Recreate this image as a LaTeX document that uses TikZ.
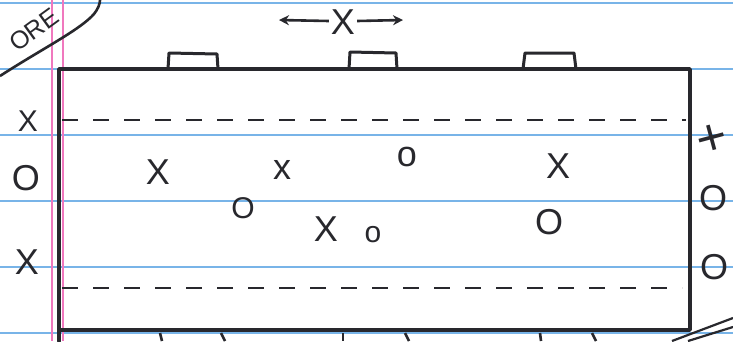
\documentclass[tikz,border=0pt]{standalone}
\usepackage{fontspec}
\setmainfont{Liberation Sans}
\usetikzlibrary{arrows.meta}
\definecolor{ruleblue}{RGB}{120,180,232}
\definecolor{marginpink}{RGB}{240,120,190}
\definecolor{ink}{RGB}{40,40,45}
\tikzset{
  ruled/.style={ruleblue, line width=1.6pt},
  margin/.style={marginpink, line width=1.4pt},
  court/.style={ink, line width=3.8pt, line cap=round, line join=round},
  tabline/.style={ink, line width=3pt, line join=round},
  midline/.style={ink, line width=2.8pt, dash pattern=on 16pt off 15pt},
  big/.style={ink, inner sep=0pt, font=\fontsize{36}{36}\selectfont},
  mid/.style={ink, inner sep=0pt, font=\fontsize{30}{30}\selectfont},
  tick/.style={ink, line width=2.6pt},
}
\begin{document}
\begin{tikzpicture}[x=1pt,y=-1pt]
\useasboundingbox (0,0) rectangle (733,341);
\fill[white] (0,0) rectangle (733,341);
% notebook rules
\foreach \yy in {3,69,135,201,267,333} \draw[ruled] (0,\yy) -- (733,\yy);
\draw[margin] (52,0) -- (52,341);
\draw[margin] (63,0) -- (63,341);
% court corners
\coordinate (tl) at (59,69);
\coordinate (tr) at (690,69);
\coordinate (br) at (690,330);
\coordinate (bl) at (59,330);
\coordinate (blx) at (59,341);
\draw[court] (blx) -- (tl) -- (tr) -- (br) -- (bl);
% dashed lines
\coordinate (d1a) at (62,120); \coordinate (d1b) at (686,120);
\coordinate (d2a) at (62,288); \coordinate (d2b) at (682,288);
\draw[midline] (d1a) -- (d1b);
\draw[midline] (d2a) -- (d2b);
% goal tabs on top
\draw[tabline] (168,69) -- (169,53) -- (217,54) -- (218,69);
\draw[tabline] (349,69) -- (350,52) -- (396,53) -- (397,69);
\draw[tabline] (523,69) -- (525,53) -- (574,53) -- (576,69);
% ticks below bottom edge
\foreach \xa/\xb in {160/162,221/225,343/343,405/409,540/541,592/596}
  \draw[tick] (\xa,333) -- (\xb,341);
% bottom-right double diagonal
\draw[ink, line width=2.2pt] (672,341) -- (733,318);
\draw[ink, line width=2.2pt] (688,341) -- (733,327);
% top-left label bubble
\draw[ink, line width=2.6pt] (0,76) .. controls (40,50) and (80,30) .. (94,14) .. controls (98,9) and (100,4) .. (100,0);
\node[ink, rotate=36, font=\fontsize{25}{25}\selectfont, inner sep=0pt] (lbl) at (34,30) {ORE};
% top arrow with X
\node[big] (tx) at (343,22) {X};
\coordinate (la) at (279,20); \coordinate (ra) at (403,20);
\draw[ink, line width=2.6pt, -{Stealth[length=10pt,width=10pt]}] (tx.west) ++(-2,-1) -- (la);
\draw[ink, line width=2.6pt, -{Stealth[length=10pt,width=10pt]}] (tx.east) ++(2,-1) -- (ra);
% left side players
\node[mid] (l1) at (28,121) {X};
\node[big] (l2) at (26,178) {O};
\node[big] (l3) at (27,262) {X};
% right side players
\node[ink, inner sep=0pt, rotate=15, font=\fontsize{52}{52}\selectfont] (r1) at (712,140) {+};
\node[big] (r2) at (713,198) {O};
\node[big] (r3) at (714,267) {O};
% inside players
\node[big] (p1) at (158,172) {X};
\node[big] (p2) at (282,170) {x};
\node[big] (p3) at (407,157) {o};
\node[big] (p4) at (558,166) {X};
\node[mid] (p5) at (243,208) {O};
\node[big] (p6) at (326,229) {X};
\node[mid] (p7) at (373,235) {o};
\node[big] (p8) at (549,222) {O};
\end{tikzpicture}
\end{document}
